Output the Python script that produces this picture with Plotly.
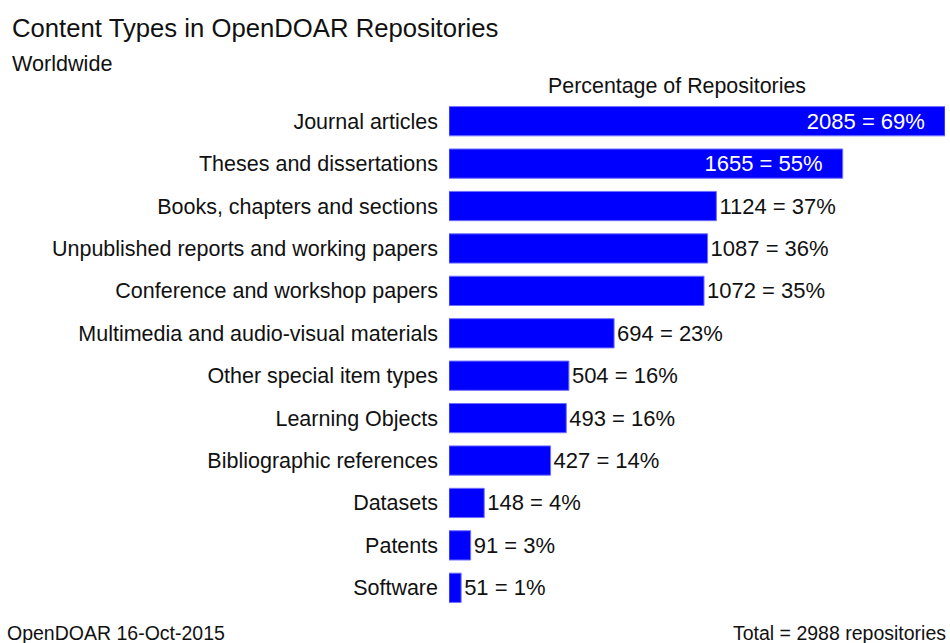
import plotly.graph_objects as go

categories = [
    "Journal articles",
    "Theses and dissertations",
    "Books, chapters and sections",
    "Unpublished reports and working papers",
    "Conference and workshop papers",
    "Multimedia and audio-visual materials",
    "Other special item types",
    "Learning Objects",
    "Bibliographic references",
    "Datasets",
    "Patents",
    "Software",
]
counts = [2085, 1655, 1124, 1087, 1072, 694, 504, 493, 427, 148, 91, 51]
percents = [69, 55, 37, 36, 35, 23, 16, 16, 14, 4, 3, 1]
total = 2988

positions = ["inside" if c > 1500 else "outside" for c in counts]
PAD = "\u2002\u00a0"  # right padding for labels drawn inside the bars
labels = [
    f"{c} = {p}%" + (PAD if pos == "inside" else "")
    for c, p, pos in zip(counts, percents, positions)
]

FONT = "Liberation Sans, Arial, sans-serif"
INK = "#111111"

fig = go.Figure(
    go.Bar(
        x=counts,
        y=categories,
        orientation="h",
        width=0.69,
        marker=dict(color="#0000ff", line=dict(color="#7070ff", width=1)),
        text=labels,
        textposition=positions,
        insidetextanchor="end",
        insidetextfont=dict(color="white", size=22, family=FONT),
        outsidetextfont=dict(color=INK, size=22, family=FONT),
        constraintext="none",
        cliponaxis=False,
        hoverinfo="skip",
    )
)

W, H = 950, 643
L, R, T, B = 449, 5, 100, 34
fig.update_layout(
    width=W,
    height=H,
    margin=dict(l=L, r=R, t=T, b=B, autoexpand=False),
    plot_bgcolor="white",
    paper_bgcolor="white",
    showlegend=False,
    font=dict(family=FONT, color=INK),
    xaxis=dict(range=[0, 2085], visible=False, fixedrange=True, automargin=False),
    yaxis=dict(
        autorange="reversed",
        automargin=False,
        showgrid=False,
        zeroline=False,
        showline=False,
        ticks="",
        ticklabelstandoff=10,
        tickfont=dict(size=21.5, family=FONT, color=INK),
        fixedrange=True,
    ),
)

pw, ph = W - L - R, H - T - B
texts = [
    ("Content Types in OpenDOAR Repositories", 10, 28, 25.7, "left"),
    ("Worldwide", 10, 63, 21.6, "left"),
    ("Percentage of Repositories", 677, 86, 21.4, "center"),
    ("OpenDOAR 16-Oct-2015", 5, 633, 19.5, "left"),
    (f"Total = {total} repositories", 948, 633, 19.5, "right"),
]
anns = []
for text, px, py, size, align in texts:
    anns.append(dict(
        text=text,
        x=(px - L) / pw,
        y=((H - py) - B) / ph,
        xref="paper", yref="paper",
        xanchor=align, yanchor="middle",
        showarrow=False,
        font=dict(size=size, family=FONT, color=INK),
    ))
fig.update_layout(annotations=anns)

fig.write_html(
    "out.html",
    config={"displayModeBar": False},
    post_script="document.body.style.margin='0';",
)
